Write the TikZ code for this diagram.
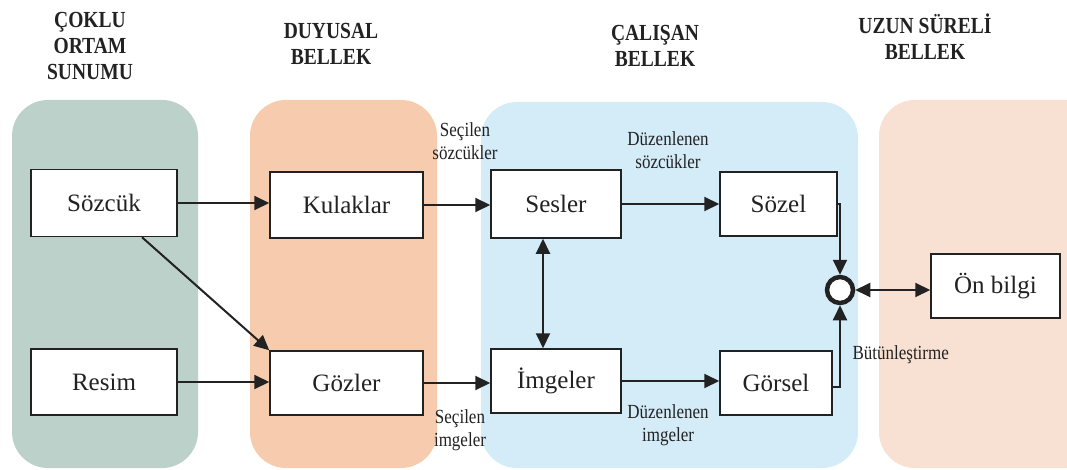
\documentclass[tikz,border=0pt]{standalone}
\usepackage{fontspec}
\setmainfont{Liberation Serif}
\newfontfamily\headfont{Liberation Serif}[FakeStretch=0.85]
\newfontfamily\labfont{Liberation Serif}[FakeStretch=0.85]
\usetikzlibrary{arrows.meta}
\definecolor{pgreen}{HTML}{BCD1C9}
\definecolor{porange}{HTML}{F7CBAD}
\definecolor{pblue}{HTML}{D3ECF8}
\definecolor{ppeach}{HTML}{F8E1D3}
\definecolor{txt}{HTML}{222222}
\begin{document}
\begin{tikzpicture}[x=1pt,y=-1pt,
  panel/.style={rounded corners=36pt},
  box/.style={draw=txt,line width=1.5pt,fill=white,text=txt,
    font=\fontsize{25}{28}\selectfont,inner sep=0pt},
  head/.style={align=center,text=txt,font=\headfont\bfseries\fontsize{23}{26}\selectfont},
  lab/.style={align=center,text=txt,font=\labfont\fontsize{20}{23}\selectfont},
  tip/.tip={Triangle[length=15pt,width=14pt]},
  arr/.style={draw=txt,line width=2pt,-tip},
  darr/.style={draw=txt,line width=2pt,tip-tip}
]
\useasboundingbox (0,0) rectangle (1067,470);
% panels
\fill[pgreen,panel] (12,100) rectangle (198,468);
\fill[porange,panel] (250,100) rectangle (437,468);
\fill[pblue,panel] (481,102) rectangle (858,468);
\fill[ppeach,panel] (879,100) rectangle (1100,468);
% headers
\node[head] (h1) at (90,46) {ÇOKLU\\ORTAM\\SUNUMU};
\node[head] (h2) at (331,44) {DUYUSAL\\BELLEK};
\node[head] (h3) at (655,46) {ÇALIŞAN\\BELLEK};
\node[head] (h4) at (925,37) {UZUN SÜRELİ\\BELLEK};
% boxes
\node[box,minimum width=146pt,minimum height=67pt] (soz) at (104,203) {Sözcük};
\node[box,minimum width=146pt,minimum height=66pt] (res) at (104,382) {Resim};
\node[box,minimum width=153pt,minimum height=66pt] (kul) at (346.5,205) {Kulaklar};
\node[box,minimum width=153pt,minimum height=64pt] (goz) at (346.5,383) {Gözler};
\node[box,minimum width=130pt,minimum height=68pt] (ses) at (556,204) {Sesler};
\node[box,minimum width=130pt,minimum height=64pt] (img) at (556,381) {İmgeler};
\node[box,minimum width=117pt,minimum height=64pt] (szl) at (778.5,204) {Sözel};
\node[box,minimum width=112pt,minimum height=64pt] (grs) at (776,383) {Görsel};
\node[box,minimum width=129pt,minimum height=64pt] (onb) at (995.5,286) {Ön bilgi};
\node[circle,draw=txt,line width=4.5pt,fill=white,minimum size=26pt,inner sep=0pt] (c) at (840,290) {};
% labels
\node[lab] (l1) at (465,141) {Seçilen\\sözcükler};
\node[lab] (l2) at (668,150) {Düzenlenen\\sözcükler};
\node[lab] (l3) at (460,430) {Seçilen\\imgeler};
\node[lab] (l4) at (668,425) {Düzenlenen\\imgeler};
\node[lab,anchor=west] (l5) at (849,355) {Bütünleştirme};
% arrows
\draw[arr] (soz.east) -- (kul.west |- soz.east);
\draw[arr] ([xshift=38pt]soz.south) -- (goz.north west);
\draw[arr] (res.east) -- (goz.west |- res.east);
\draw[arr] (kul.east) -- (ses.west |- kul.east);
\draw[arr] (goz.east) -- (img.west |- goz.east);
\draw[arr] (ses.east) -- (szl.west |- ses.east);
\draw[arr] (img.east) -- (grs.west |- img.east);
\draw[darr] ([xshift=-13pt]ses.south) -- ([xshift=-13pt]img.north);
\draw[arr] (szl.east) -| (c.north);
\draw[arr] ([yshift=-4pt]grs.east) -| (c.south);
\draw[darr] (c.east) -- (onb.west |- c.east);
\end{tikzpicture}
\end{document}
